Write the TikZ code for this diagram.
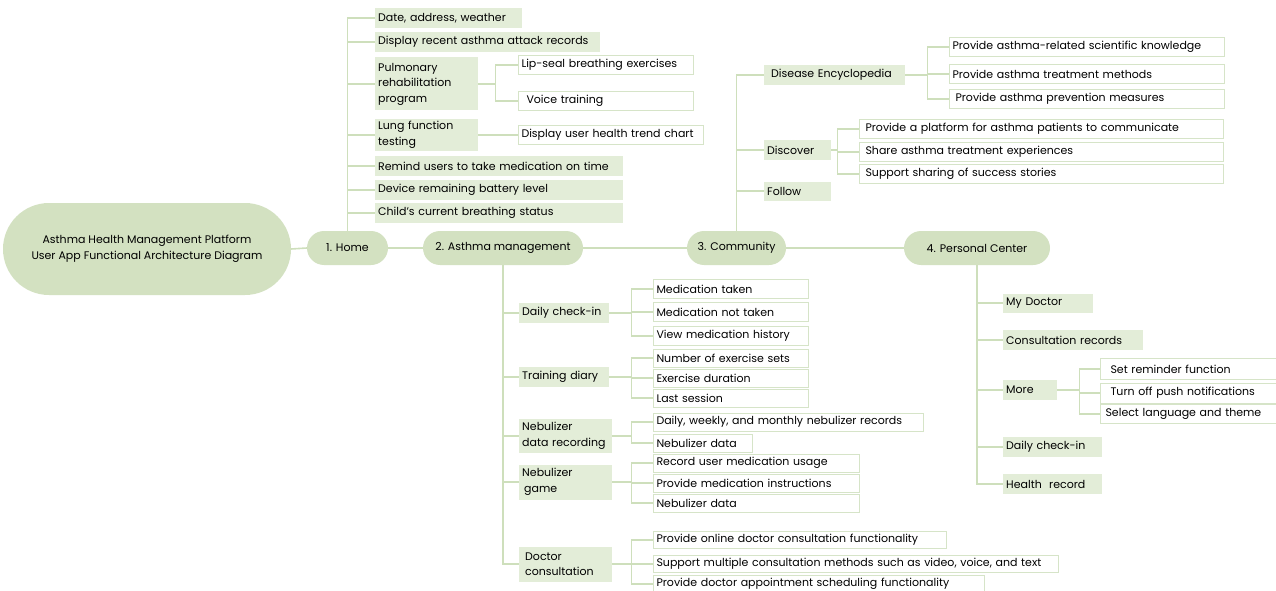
\documentclass[tikz,border=0pt]{standalone}
\usepackage{fontspec}
\setmainfont{Poppins}
\usepackage{tikz}
\usetikzlibrary{positioning}
\hyphenpenalty=10000
\definecolor{pillgreen}{RGB}{211,225,193}
\definecolor{boxgreen}{RGB}{227,237,216}
\definecolor{linegreen}{RGB}{206,223,188}
\definecolor{edgegreen}{RGB}{214,228,200}
\tikzset{
	pill/.style={fill=pillgreen, rounded corners=17pt, minimum height=34pt, inner sep=0pt},
	hbox/.style={fill=boxgreen, anchor=west, inner xsep=3pt, inner ysep=0pt, minimum height=20pt, align=left},
	leaf/.style={draw=edgegreen, line width=1pt, fill=white, anchor=west, inner xsep=3pt, inner ysep=0pt, minimum height=19pt, align=left},
	conn/.style={draw=linegreen, line width=1.6pt}
}

\begin{document}
\begin{tikzpicture}[x=1pt,y=-1pt,font=\fontsize{11}{15.5}\selectfont]
	\useasboundingbox (0,0) rectangle (1276,591);
	% main row
	\node[pill, rounded corners=46pt, minimum width=288pt, minimum height=92pt, align=center] (root) at (147,249) {Asthma Health Management Platform\\User App Functional Architecture Diagram};
	\node[pill, minimum width=81pt] (home) at (347.5,248) {1. Home};
	\node[pill, minimum width=160pt] (am) at (503,248) {2. Asthma management};
	\node[pill, minimum width=99pt] (comm) at (736.5,248) {3. Community};
	\node[pill, minimum width=146pt] (pc) at (977,248) {4. Personal Center};
	\draw[conn] (root.east) -- (home.west);
	\draw[conn] (home.east) -- (am.west);
	\draw[conn] (am.east) -- (comm.west);
	\draw[conn] (comm.east) -- (pc.west);

	% 1. Home
	\node[hbox, text width=141pt] (date) at (375,18) {Date, address, weather};
	\node[hbox, text width=219pt] (rec) at (375,42) {Display recent asthma attack records};
	\node[hbox, text width=97pt, minimum height=53pt] (pul) at (375,84) {Pulmonary\\rehabilitation\\program};
	\node[hbox, text width=97pt, minimum height=32pt] (lung) at (375,135) {Lung function\\testing};
	\node[hbox, text width=242pt] (remind) at (375,166) {Remind users to take medication on time};
	\node[hbox, text width=242pt] (batt) at (375,190) {Device remaining battery level};
	\node[hbox, text width=242pt] (child) at (375,213) {Child's current breathing status};
	\node[leaf, text width=169pt] (lip) at (518,65) {Lip-seal breathing exercises};
	\node[leaf, text width=169pt] (voice) at (518,101) {\hspace{5pt}Voice training};
	\node[leaf, text width=179pt] (trend) at (518,135) {Display user health trend chart};
	\foreach \c in {date,rec,pul,lung,remind,batt,child}
		\draw[conn] (home.north) |- (\c.west);
	\foreach \c in {lip,voice}
		\draw[conn] (pul.east) -- +(17,0) |- (\c.west);
	\draw[conn] (lung.east) |- (trend.west);

	% 2. Asthma management
	\node[hbox, text width=84pt] (dci) at (519,313) {Daily check-in};
	\node[hbox, text width=84pt] (trd) at (519,377) {Training diary};
	\node[hbox, text width=87pt, minimum height=34pt] (ndr) at (519,436) {Nebulizer\\data recording};
	\node[hbox, text width=87pt, minimum height=35pt] (ngm) at (519,482) {Nebulizer\\\hspace{2pt}game};
	\node[hbox, text width=87pt, minimum height=35pt] (doc) at (519,564) {\hspace{3pt}Doctor\\\hspace{3pt}consultation};
	\foreach \c in {dci,trd,ndr,ngm,doc}
		\draw[conn] (am.south) |- (\c.west);
	\node[leaf, text width=149pt] (mt) at (653,289) {Medication taken};
	\node[leaf, text width=149pt] (mnt) at (653,312) {Medication not taken};
	\node[leaf, text width=149pt] (vmh) at (653,336) {View medication history};
	\node[leaf, text width=149pt, minimum height=18pt] (nes) at (653,358) {Number of exercise sets};
	\node[leaf, text width=149pt, minimum height=18pt] (exd) at (653,378) {Exercise duration};
	\node[leaf, text width=149pt, minimum height=18pt] (ls) at (653,398) {Last session};
	\node[leaf, text width=264pt, minimum height=18pt] (dwm) at (653,422) {Daily, weekly, and monthly nebulizer records};
	\node[leaf, text width=93pt, minimum height=18pt] (nd1) at (653,443) {Nebulizer data};
	\node[leaf, text width=200pt, minimum height=18pt] (rum) at (653,463) {Record user medication usage};
	\node[leaf, text width=200pt, minimum height=18pt] (pmi) at (653,483) {Provide medication instructions};
	\node[leaf, text width=200pt, minimum height=18pt] (nd2) at (653,503) {Nebulizer data};
	\node[leaf, text width=287pt, minimum height=17pt] (pod) at (653,540) {Provide online doctor consultation functionality};
	\node[leaf, text width=399pt, minimum height=17pt] (smc) at (653,564) {Support multiple consultation methods such as video, voice, and text};
	\node[leaf, text width=325pt, minimum height=17pt] (pda) at (653,584) {Provide doctor appointment scheduling functionality};
	\foreach \c in {mt,mnt,vmh}
		\draw[conn] (dci.east) -- +(22,0) |- (\c.west);
	\foreach \c in {nes,exd,ls}
		\draw[conn] (trd.east) -- +(22,0) |- (\c.west);
	\foreach \c in {dwm,nd1}
		\draw[conn] (ndr.east) -- +(19,0) |- (\c.west);
	\foreach \c in {rum,pmi,nd2}
		\draw[conn] (ngm.east) -- +(19,0) |- (\c.west);
	\foreach \c in {pod,smc,pda}
		\draw[conn] (doc.east) -- +(19,0) |- (\c.west);

	% 3. Community
	\node[hbox, text width=135pt] (de) at (764,75) {\hspace{4pt}Disease Encyclopedia};
	\node[hbox, text width=61pt] (dis) at (764,150) {Discover};
	\node[hbox, text width=61pt, minimum height=19pt] (fol) at (764,191) {Follow};
	\foreach \c in {de,dis,fol}
		\draw[conn] (comm.north) |- (\c.west);
	\node[leaf, text width=269pt] (sci) at (949,47) {Provide asthma-related scientific knowledge};
	\node[leaf, text width=269pt] (trm) at (949,74) {Provide asthma treatment methods};
	\node[leaf, text width=269pt] (prv) at (949,99) {\hspace{3pt}Provide asthma prevention measures};
	\node[leaf, text width=358pt] (plat) at (859,129) {\hspace{3pt}Provide a platform for asthma patients to communicate};
	\node[leaf, text width=358pt] (shr) at (859,152) {\hspace{3pt}Share asthma treatment experiences};
	\node[leaf, text width=358pt] (sup) at (859,174) {\hspace{3pt}Support sharing of success stories};
	\foreach \c in {sci,trm,prv}
		\draw[conn] (de.east) -- +(22,0) |- (\c.west);
	\foreach \c in {plat,shr,sup}
		\draw[conn] (dis.east) -- +(6,0) |- (\c.west);

	% 4. Personal Center
	\node[hbox, text width=84pt, minimum height=19pt] (myd) at (1003,303) {My Doctor};
	\node[hbox, text width=134pt] (cons) at (1003,340) {Consultation records};
	\node[hbox, text width=48pt] (more) at (1003,390) {More};
	\node[hbox, text width=93pt] (dci2) at (1003,447) {Daily check-in};
	\node[hbox, text width=93pt] (hr) at (1003,484) {Health\ \ record};
	\foreach \c in {myd,cons,more,dci2,hr}
		\draw[conn] (pc.south) |- (\c.west);
	\node[leaf, text width=184pt, minimum height=21pt] (rem) at (1100,369) {\hspace{7pt}Set reminder function};
	\node[leaf, text width=184pt, minimum height=20pt] (push) at (1100,393) {\hspace{7pt}Turn off push notifications};
	\node[leaf, text width=184pt, minimum height=19pt] (lang) at (1100,414) {\hspace{2pt}Select language and theme};
	\foreach \c in {rem,push,lang}
		\draw[conn] (more.east) -- +(22,0) |- (\c.west);
\end{tikzpicture}
\end{document}
